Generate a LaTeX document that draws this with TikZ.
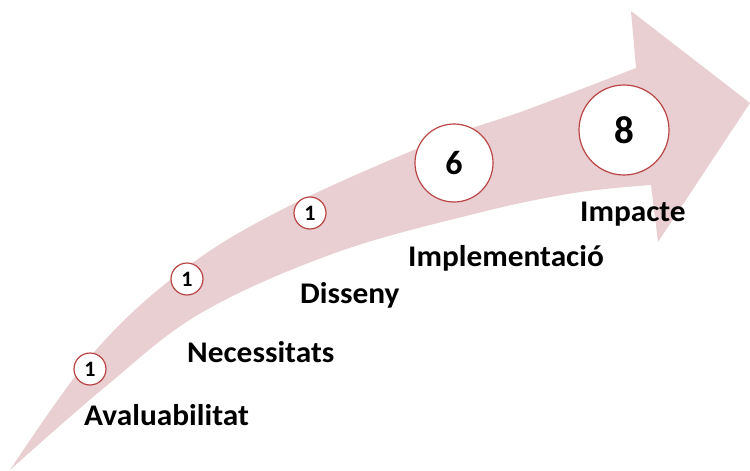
\documentclass[tikz,border=0pt]{standalone}
\usepackage{fontspec}
\setmainfont{Carlito}
\definecolor{arrowpink}{RGB}{233,207,209}
\definecolor{ringred}{RGB}{185,70,68}
\newcommand{\widetxt}[1]{\scalebox{1.045}[1]{#1}}
\begin{document}
\begin{tikzpicture}[x=1pt,y=-1pt,
  ring/.style={circle,draw=ringred,line width=1.2pt,fill=white,inner sep=0pt,font=\bfseries},
  small/.style={ring,minimum size=32pt,font=\bfseries\fontsize{22}{24}\selectfont},
  lab/.style={anchor=base west,inner sep=0pt,font=\bfseries\fontsize{30}{34}\selectfont}]
\useasboundingbox (0,0) rectangle (750,471);
\fill[arrowpink] plot[smooth,tension=0.6] coordinates {(10,470) (96,350) (187,267) (287,207) (431,143) (526,110) (636,68)}
  -- (631,11) -- (750,103) -- (658,242)
  -- plot[smooth,tension=0.6] coordinates {(651,185) (574,193) (478,213) (335,253) (201,313) (105,387) (10,470)} -- cycle;
\node[small] (c1) at (90,369) {1};
\node[small] (c2) at (187,279) {1};
\node[small] (c3) at (310,213) {1};
\node[ring,minimum size=78pt,font=\bfseries\fontsize{34}{36}\selectfont] (c4) at (454,163) {6};
\node[ring,minimum size=90pt,font=\bfseries\fontsize{39}{40}\selectfont] (c5) at (624,130) {8};
\node[lab] (l1) at (84,425) {\widetxt{Avaluabilitat}};
\node[lab] (l2) at (187,362) {\widetxt{Necessitats}};
\node[lab] (l3) at (300,303) {\widetxt{Disseny}};
\node[lab] (l4) at (408,266) {\widetxt{Implementació}};
\node[lab] (l5) at (580,221) {\widetxt{Impacte}};
\end{tikzpicture}
\end{document}
